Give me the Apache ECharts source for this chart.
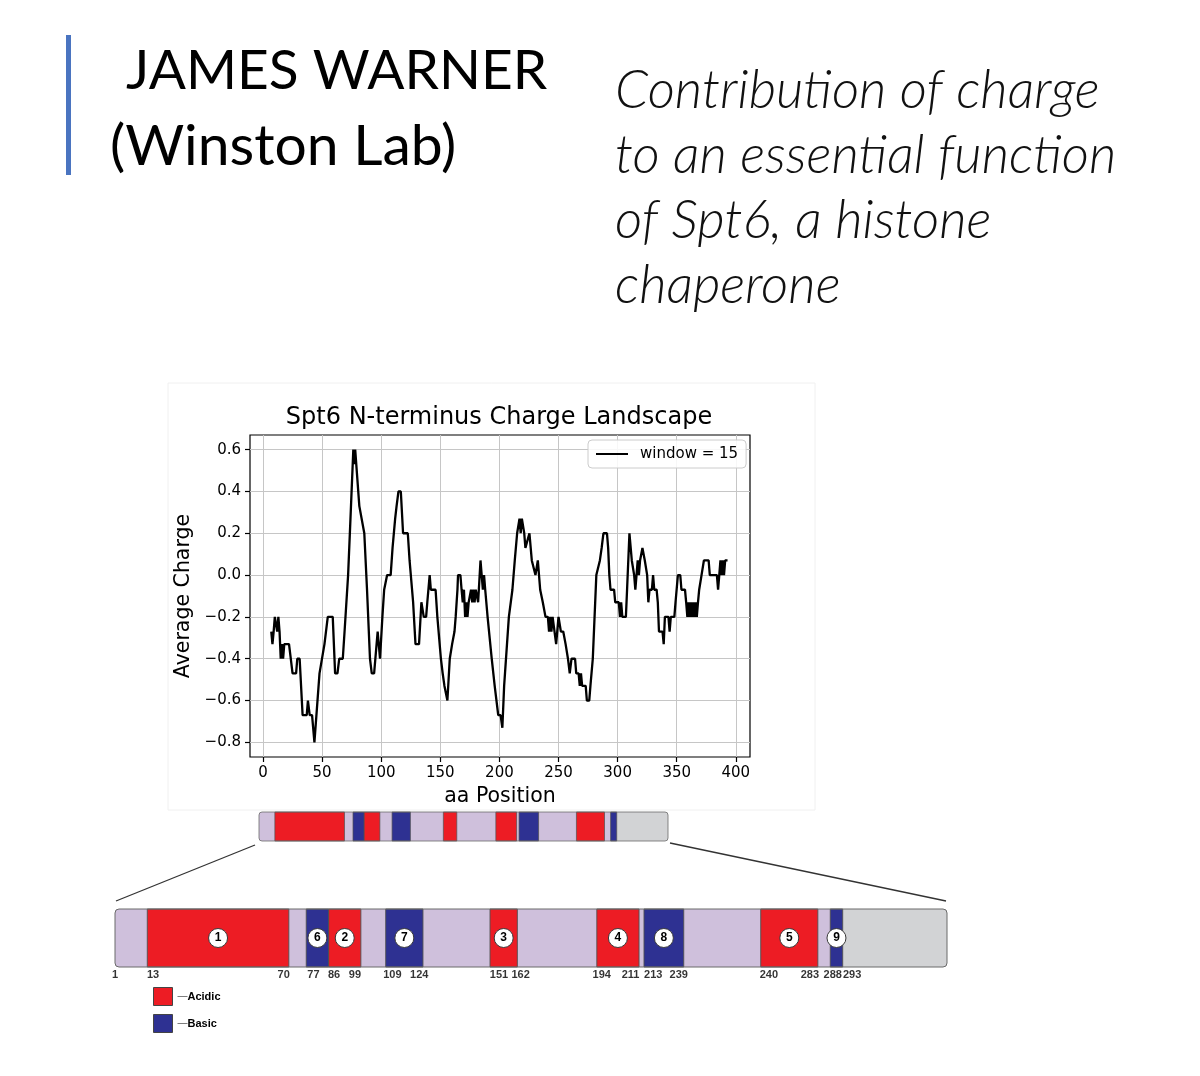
<!DOCTYPE html>
<html>
<head>
<meta charset="utf-8">
<script src="https://cdn.jsdelivr.net/npm/echarts@6/dist/echarts.min.js"></script>
<style>
html,body{margin:0;padding:0;background:#fff;}
#c{width:1200px;height:1076px;}
</style>
</head>
<body>
<div id="c"></div>
<script>
// ---------- data ----------
const headerName = ' JAMES WARNER';
const headerLab = '(Winston Lab)';
const talkTitle = ['Contribution of charge', 'to an essential function', 'of Spt6, a histone', 'chaperone'];
const plotTitle = 'Spt6 N-terminus Charge Landscape';
const seriesName = 'window = 15';
const xTicks = [0, 50, 100, 150, 200, 250, 300, 350, 400];
const yTicks = [-0.8, -0.6, -0.4, -0.2, 0, 0.2, 0.4, 0.6];

// [aa position, average charge]
const chargePoints = [
[7,-0.27],[8,-0.33],[9,-0.27],[10,-0.2],[11,-0.2],[12,-0.27],[13,-0.2],[14,-0.27],[15,-0.4],[16,-0.33],[17,-0.4],[18,-0.33],[22,-0.33],[23.5,-0.4],[25,-0.47],[28,-0.47],[29,-0.4],[31,-0.4],[33.5,-0.67],[37,-0.67],[38,-0.6],[39.5,-0.67],[41.5,-0.67],[43.5,-0.8],[47.8,-0.47],[49,-0.47],[52,-0.33],[54.8,-0.2],[59,-0.2],[61,-0.47],[63,-0.47],[64.5,-0.4],[67.5,-0.4],[69,-0.27],[72,0.0],[74,0.27],[76.4,0.6],[77.3,0.53],[78,0.6],[78.7,0.6],[81.5,0.33],[83,0.33],[85.7,0.2],[88,-0.07],[90.5,-0.4],[92,-0.47],[94,-0.47],[97,-0.27],[99,-0.4],[101,-0.2],[102.5,-0.07],[104,-0.07],[105,0.0],[108,0.0],[109.6,0.13],[111.8,0.27],[113,0.33],[114.6,0.4],[116.6,0.4],[118.5,0.2],[122.5,0.2],[124,0.07],[125,0.07],[127,-0.13],[129,-0.33],[132,-0.33],[134,-0.13],[135,-0.13],[136,-0.2],[138,-0.2],[139,-0.13],[141,0.0],[142,-0.07],[146,-0.07],[147.5,-0.2],[150.5,-0.4],[152,-0.47],[153.5,-0.53],[155,-0.53],[156,-0.6],[158,-0.4],[160,-0.33],[162,-0.27],[163,-0.2],[164.5,-0.07],[165,0.0],[167,0.0],[168,-0.07],[169,-0.13],[170,-0.07],[171,-0.2],[172,-0.13],[173,-0.2],[174,-0.13],[176,-0.07],[177,-0.13],[178,-0.07],[179,-0.13],[180,-0.07],[182,-0.13],[184,0.07],[186,-0.07],[187,0.0],[188,-0.07],[190,-0.2],[193.5,-0.4],[196,-0.53],[197,-0.53],[199,-0.67],[201,-0.67],[202.5,-0.73],[204,-0.53],[205.5,-0.53],[208,-0.2],[211,-0.07],[213,0.07],[215,0.2],[217,0.27],[218,0.2],[219,0.27],[220,0.27],[221,0.2],[222,0.13],[223.2,0.13],[225.4,0.2],[227.4,0.07],[229,0.07],[230.5,0.0],[232.5,0.07],[234.5,-0.07],[236.7,-0.13],[239,-0.2],[241,-0.2],[242,-0.27],[243,-0.2],[244,-0.27],[245,-0.2],[246,-0.2],[248,-0.33],[250,-0.2],[252,-0.27],[254,-0.27],[256,-0.33],[258,-0.4],[259.5,-0.47],[261,-0.4],[264,-0.4],[265,-0.47],[267,-0.47],[268,-0.53],[269,-0.47],[270,-0.53],[273,-0.53],[274,-0.6],[276,-0.6],[277,-0.53],[279,-0.4],[280,-0.4],[282,0.0],[283,0.0],[285,0.07],[286.5,0.13],[288,0.2],[291,0.2],[292,0.13],[293,0.0],[294,-0.07],[297,-0.07],[298,-0.13],[301,-0.13],[302,-0.2],[303,-0.13],[304,-0.2],[307,-0.2],[308,-0.07],[310,0.2],[311,0.2],[312,0.07],[313,0.07],[314,0.0],[315,-0.07],[316,0.0],[317,0.07],[318,0.0],[319,0.07],[320,0.07],[321,0.13],[323,0.07],[324,0.07],[325,0.0],[326,-0.13],[327,-0.07],[329,-0.07],[330,0.0],[331,-0.07],[333,-0.07],[334,-0.13],[335,-0.27],[338,-0.27],[339,-0.33],[340,-0.2],[343,-0.2],[344,-0.27],[345,-0.2],[348,-0.2],[349,-0.13],[350,-0.13],[351,0.0],[353,0.0],[354,-0.07],[357,-0.07],[358,-0.13],[359,-0.2],[360,-0.13],[361,-0.2],[362,-0.13],[363,-0.2],[364,-0.13],[365,-0.2],[366,-0.13],[367,-0.2],[368,-0.13],[369,-0.07],[371,0.0],[373,0.07],[377,0.07],[378,0.0],[384,0.0],[385,-0.07],[386,0.0],[387,0.07],[388,0.0],[389,0.07],[390,0.0],[391,0.07],[393,0.07]
];

// domain map (positions as drawn, aa units)
const regionNames = ['1', '6', '2', '7', '3', '4', '8', '5', '9'];
const regionStart = [13, 77, 86, 109, 151, 194, 213, 260, 288];
const regionEnd   = [70, 86, 99, 124, 162, 211, 229, 283, 293];
const regionType  = ['Acidic', 'Basic', 'Acidic', 'Basic', 'Acidic', 'Acidic', 'Basic', 'Acidic', 'Basic'];
const domainEnd = 293;
const barEnd = 335;
const boundaryLabels = ['1', '13', '70', '77', '86', '99', '109', '124', '151', '162', '194', '211', '213', '239', '240', '283', '288', '293'];
const boundaryLabelAt = [0, 15.3, 67.9, 79.9, 88.2, 96.6, 111.7, 122.5, 154.6, 163.3, 196, 207.6, 216.7, 227, 263.3, 279.8, 289, 296.8];
const typeNames = ['Acidic', 'Basic'];

// ---------- styles / layout ----------
const RED = '#ED1C24', BLUE = '#2E3192', LAV = '#CFC0DC', GRAY = '#D2D3D5', EDGE = '#505050';
const typeColor = { Acidic: RED, Basic: BLUE };
const MPL = 'DejaVu Sans';
const ARIAL = 'Liberation Sans';
const plotBox = { left: 250, top: 435, width: 500, height: 322 };
const smallBar = { left: 259, top: 812, width: 409, height: 29 };
const bigBar = { left: 115, top: 909, width: 832, height: 58 };

const chart = echarts.init(document.getElementById('c'));

function fmtY(v) {
  const s = Math.abs(v).toFixed(1);
  return v < -1e-9 ? '\u2212' + s : s;
}

function rectSeries(name, gi, items, radius, lw, color) {
  return {
    type: 'custom', name: name, coordinateSystem: 'cartesian2d',
    xAxisIndex: gi, yAxisIndex: gi, silent: true, animation: false, clip: false,
    itemStyle: color ? { color: color } : undefined,
    data: items.map(it => [it.s, it.e]),
    encode: { x: [0, 1] },
    renderItem: function (params, api) {
      const it = items[params.dataIndex];
      const p0 = api.coord([it.s, 1]);
      const p1 = api.coord([it.e, 0]);
      return {
        type: 'rect',
        shape: { x: p0[0], y: p0[1], width: p1[0] - p0[0], height: p1[1] - p0[1], r: it.r ? it.r.map(v => v * radius) : 0 },
        style: { fill: it.fill, stroke: it.stroke, lineWidth: lw }
      };
    }
  };
}

const bgItems = [
  { s: 0, e: domainEnd, fill: LAV, stroke: null, r: [1, 0, 0, 1] },
  { s: domainEnd, e: barEnd, fill: GRAY, stroke: null, r: [0, 1, 1, 0] }
];
const outlineItems = [{ s: 0, e: barEnd, fill: null, stroke: '#6a6a6a', r: [1, 1, 1, 1] }];
function regionItems(type) {
  const out = [];
  regionNames.forEach((n, i) => {
    if (regionType[i] === type) out.push({ s: regionStart[i], e: regionEnd[i], fill: typeColor[type], stroke: EDGE });
  });
  return out;
}

const series = [
  {
    name: seriesName, type: 'line', xAxisIndex: 0, yAxisIndex: 0,
    data: chargePoints, showSymbol: false, symbol: 'none', animation: false,
    lineStyle: { color: '#000', width: 2.3 }, itemStyle: { color: '#000' }
  }
];
[1, 2].forEach(gi => {
  const big = gi === 2;
  series.push(rectSeries('bg' + gi, gi, bgItems, big ? 4 : 3, 0));
  typeNames.forEach(t => series.push(rectSeries(t, gi, regionItems(t), 0, big ? 0.9 : 0.7, typeColor[t])));
  series.push(rectSeries('outline' + gi, gi, outlineItems, big ? 4 : 3, big ? 1 : 0.8));
});
series.push({
  type: 'scatter', xAxisIndex: 2, yAxisIndex: 2, silent: true, animation: false,
  data: regionNames.map((n, i) => ({ value: [(regionStart[i] + regionEnd[i]) / 2, 0.5], name: n })),
  symbol: 'circle', symbolSize: 19,
  itemStyle: { color: '#fff', borderColor: '#3a3a3a', borderWidth: 1, opacity: 1 },
  label: { show: true, position: 'inside', formatter: p => p.name, color: '#000', fontFamily: ARIAL, fontWeight: 'bold', fontSize: 12 }
});
series.push({
  type: 'scatter', xAxisIndex: 2, yAxisIndex: 2, silent: true, animation: false,
  data: boundaryLabels.map((t, i) => ({ value: [boundaryLabelAt[i], 0], name: t })),
  symbolSize: 0.001, itemStyle: { color: 'rgba(0,0,0,0)' },
  label: { show: true, position: 'bottom', distance: 2, formatter: p => p.name, color: '#000', fontFamily: ARIAL, fontWeight: 'bold', fontSize: 11 }
});

const headerFont = 'Lato';
const graphic = [
  { type: 'rect', shape: { x: 168, y: 383, width: 647, height: 427 }, style: { fill: null, stroke: '#f0f0f0', lineWidth: 1 }, silent: true, z: -10 },
  { type: 'rect', shape: { x: 66, y: 35, width: 5, height: 140 }, style: { fill: '#4A74C0' }, silent: true },
  { type: 'text', x: 112, y: 44, style: { text: headerName, fill: '#000', font: '55px ' + headerFont, align: 'left', verticalAlign: 'top' }, silent: true },
  { type: 'text', x: 110, y: 118, style: { text: headerLab, fill: '#000', font: '57px ' + headerFont, align: 'left', verticalAlign: 'top' }, silent: true },
  { type: 'line', shape: { x1: smallBar.left - 4, y1: smallBar.top + smallBar.height + 4, x2: bigBar.left + 1, y2: bigBar.top - 8 }, style: { stroke: '#333', lineWidth: 1.3 }, silent: true },
  { type: 'line', shape: { x1: smallBar.left + smallBar.width + 2, y1: smallBar.top + smallBar.height + 2, x2: bigBar.left + bigBar.width - 1, y2: bigBar.top - 8 }, style: { stroke: '#333', lineWidth: 1.3 }, silent: true }
];
talkTitle.forEach((line, i) => {
  graphic.push({ type: 'text', x: 615, y: 64 + i * 65, style: { text: line, fill: '#111', font: 'italic 300 53px ' + headerFont, align: 'left', verticalAlign: 'top' }, silent: true });
});

const hiddenX = gi => ({ type: 'value', gridIndex: gi, min: 0, max: barEnd, show: false });
const hiddenY = gi => ({ type: 'value', gridIndex: gi, min: 0, max: 1, show: false });

chart.setOption({
  animation: false,
  backgroundColor: '#fff',
  title: {
    text: plotTitle, left: plotBox.left + plotBox.width / 2 - 6, top: 401, textAlign: 'center',
    textStyle: { fontFamily: MPL, fontSize: 24, fontWeight: 'normal', color: '#000' }
  },
  legend: [
    {
      data: [seriesName], left: 588, top: 440, orient: 'horizontal', selectedMode: false,
      icon: 'rect', itemWidth: 32, itemHeight: 2,
      padding: [5, 8, 5, 8], borderColor: '#cccccc', borderWidth: 1, borderRadius: 4,
      backgroundColor: 'rgba(255,255,255,0.85)',
      itemStyle: { color: '#000' },
      textStyle: { fontFamily: MPL, fontSize: 15, color: '#000', padding: [0, 0, 0, 7], lineHeight: 18 }
    },
    {
      data: typeNames, left: 153, top: 987, orient: 'vertical', selectedMode: false,
      icon: 'rect', itemWidth: 19, itemHeight: 18, itemGap: 8, padding: 0,
      itemStyle: { borderColor: '#444', borderWidth: 1 },
      formatter: n => '{d|\u2014}{t|' + n + '}',
      textStyle: {
        rich: {
          d: { fontFamily: ARIAL, fontSize: 10, color: '#555' },
          t: { fontFamily: ARIAL, fontSize: 11, fontWeight: 'bold', color: '#000' }
        }
      }
    }
  ],
  grid: [
    Object.assign({ show: true, borderColor: '#000', borderWidth: 1.2, backgroundColor: '#fff', containLabel: false }, plotBox),
    Object.assign({ show: false }, smallBar),
    Object.assign({ show: false }, bigBar)
  ],
  xAxis: [
    {
      type: 'value', gridIndex: 0, min: -11, max: 412, position: 'bottom',
      name: 'aa Position', nameLocation: 'middle', nameGap: 29,
      nameTextStyle: { fontFamily: MPL, fontSize: 20.5, color: '#000' },
      axisLine: { show: false, onZero: false },
      axisTick: { show: true, inside: false, length: 5, customValues: xTicks, lineStyle: { color: '#000', width: 1.2 } },
      axisLabel: { show: true, customValues: xTicks, margin: 9, color: '#000', fontFamily: MPL, fontSize: 15, formatter: v => String(v) },
      splitLine: { show: true, lineStyle: { color: '#c6c6c6', width: 1 } }
    },
    hiddenX(1), hiddenX(2)
  ],
  yAxis: [
    {
      type: 'value', gridIndex: 0, min: -0.87, max: 0.67, position: 'left',
      name: 'Average Charge', nameLocation: 'middle', nameGap: 56, nameRotate: 90,
      nameTextStyle: { fontFamily: MPL, fontSize: 20.5, color: '#000' },
      axisLine: { show: false, onZero: false },
      axisTick: { show: true, inside: false, length: 5, customValues: yTicks, lineStyle: { color: '#000', width: 1.2 } },
      axisLabel: { show: true, customValues: yTicks, margin: 9, color: '#000', fontFamily: MPL, fontSize: 15, formatter: fmtY },
      splitLine: { show: true, lineStyle: { color: '#c6c6c6', width: 1 } }
    },
    hiddenY(1), hiddenY(2)
  ],
  graphic: graphic,
  series: series
});
</script>
</body>
</html>
